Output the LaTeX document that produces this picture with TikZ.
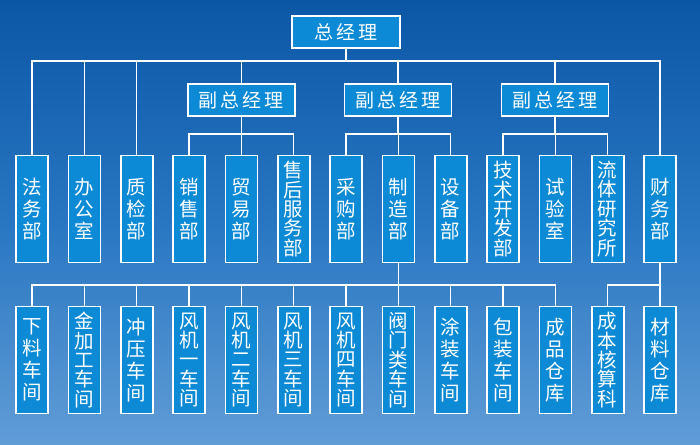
\documentclass[tikz,border=0pt]{standalone}
\usepackage{fontspec}
\setmainfont{Noto Sans CJK SC}
\definecolor{bgtop}{RGB}{12,86,166}
\definecolor{bgmid}{RGB}{40,118,194}
\definecolor{bgbot}{RGB}{96,156,214}
\definecolor{boxblue}{RGB}{12,138,214}
\tikzset{
  orgbox/.style={draw=white, line width=1.6pt, fill=boxblue, text=white, inner sep=0pt, align=center},
  hbox/.style={orgbox, minimum width=107pt, minimum height=32pt, font=\fontsize{19}{22}\selectfont},
  vbox/.style={orgbox, minimum width=32pt, minimum height=107pt, font=\fontsize{19.5}{22}\selectfont},
  vboxf/.style={orgbox, minimum width=32pt, minimum height=107pt, font=\fontsize{19.5}{19.4}\selectfont},
  wire/.style={draw=white, line width=1.5pt}
}
\begin{document}
\begin{tikzpicture}[x=1pt,y=-1pt]
\shade[top color=bgtop, bottom color=bgbot, middle color=bgmid] (0,0) rectangle (700,444);
\useasboundingbox (0,0) rectangle (700,444);

% top
\node[hbox, minimum width=108pt] (gm) at (346,32) {总\kern3pt 经\kern3pt 理};
% vice
\node[hbox] (vp1) at (241.3,100) {副\kern3pt 总\kern3pt 经\kern3pt 理};
\node[hbox] (vp2) at (398,100) {副\kern3pt 总\kern3pt 经\kern3pt 理};
\node[hbox] (vp3) at (555,100) {副\kern3pt 总\kern3pt 经\kern3pt 理};

% middle row
\def\my{209}
\node[vbox]  (m0)  at (32,\my)    {法\\务\\部};
\node[vbox]  (m1)  at (84.3,\my)  {办\\公\\室};
\node[vbox]  (m2)  at (136.7,\my) {质\\检\\部};
\node[vbox]  (m3)  at (189,\my)   {销\\售\\部};
\node[vbox]  (m4)  at (241.3,\my) {贸\\易\\部};
\node[vboxf] (m5)  at (293.7,\my) {售\\后\\服\\务\\部};
\node[vbox]  (m6)  at (346,\my)   {采\\购\\部};
\node[vbox]  (m7)  at (398.3,\my) {制\\造\\部};
\node[vbox]  (m8)  at (450.7,\my) {设\\备\\部};
\node[vboxf] (m9)  at (503,\my)   {技\\术\\开\\发\\部};
\node[vbox]  (m10) at (555.3,\my) {试\\验\\室};
\node[vboxf] (m11) at (607.7,\my) {流\\体\\研\\究\\所};
\node[vbox]  (m12) at (660,\my)   {财\\务\\部};

% bottom row
\def\by{360}
\node[vbox]  (b0)  at (32,\by)    {下\\料\\车\\间};
\node[vboxf] (b1)  at (84.3,\by)  {金\\加\\工\\车\\间};
\node[vbox]  (b2)  at (136.7,\by) {冲\\压\\车\\间};
\node[vboxf] (b3)  at (189,\by)   {风\\机\\一\\车\\间};
\node[vboxf] (b4)  at (241.3,\by) {风\\机\\二\\车\\间};
\node[vboxf] (b5)  at (293.7,\by) {风\\机\\三\\车\\间};
\node[vboxf] (b6)  at (346,\by)   {风\\机\\四\\车\\间};
\node[vboxf] (b7)  at (398.3,\by) {阀\\门\\类\\车\\间};
\node[vbox]  (b8)  at (450.7,\by) {涂\\装\\车\\间};
\node[vbox]  (b9)  at (503,\by)   {包\\装\\车\\间};
\node[vbox]  (b10) at (555.3,\by) {成\\品\\仓\\库};
\node[vboxf] (b11) at (607.7,\by) {成\\本\\核\\算\\科};
\node[vbox]  (b12) at (660,\by)   {材\\料\\仓\\库};

% bus coordinates
\coordinate (busT) at (346,61);
\coordinate (busV1) at (241.3,134);
\coordinate (busV2) at (398,134);
\coordinate (busV3) at (555,134);
\coordinate (busM) at (398.3,285);
\coordinate (busF) at (660,285);

\draw[wire] (gm.south) -- (busT);
\foreach \c in {m0,m1,m2,vp1,vp2,vp3,m12} \draw[wire] (busT) -| (\c.north);
\draw[wire] (vp1.south) -- (busV1);
\foreach \c in {m3,m4,m5} \draw[wire] (busV1) -| (\c.north);
\draw[wire] (vp2.south) -- (busV2);
\foreach \c in {m6,m7,m8} \draw[wire] (busV2) -| (\c.north);
\draw[wire] (vp3.south) -- (busV3);
\foreach \c in {m9,m10,m11} \draw[wire] (busV3) -| (\c.north);
\draw[wire] (m7.south) -- (busM);
\foreach \c in {b0,b1,b2,b3,b4,b5,b6,b7,b8,b9,b10} \draw[wire] (busM) -| (\c.north);
\draw[wire] (m12.south) -- (busF);
\foreach \c in {b11,b12} \draw[wire] (busF) -| (\c.north);
\end{tikzpicture}
\end{document}
